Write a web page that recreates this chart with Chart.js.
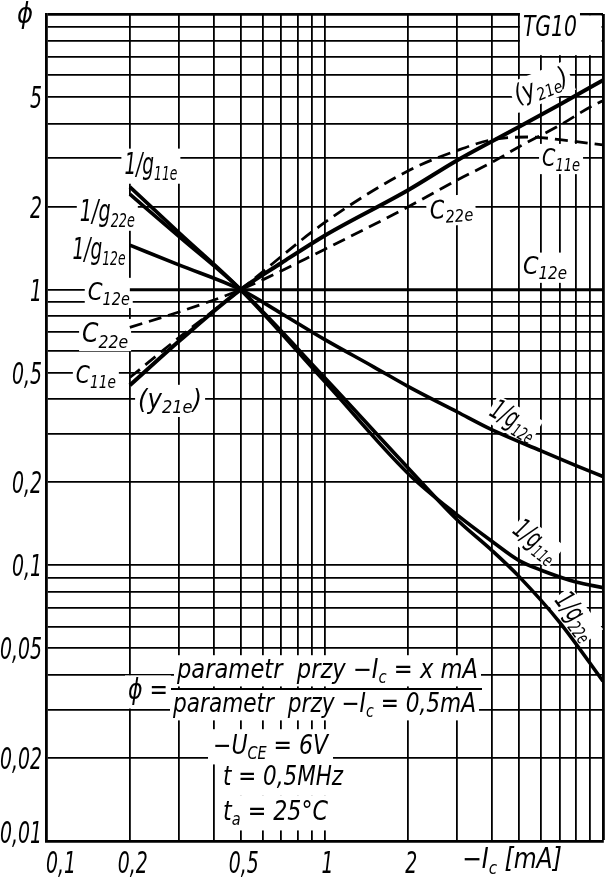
<!DOCTYPE html>
<html>
<head>
<meta charset="utf-8">
<title>TG10</title>
<script src="https://cdn.jsdelivr.net/npm/chart.js@4.4.1/dist/chart.umd.min.js"></script>
<style>
  html, body { margin: 0; padding: 0; background: #fff; }
</style>
</head>
<body>
<canvas id="chart" width="610" height="881"></canvas>
<script>
// values: -Ic [mA] against phi
const IC_Y21E = [0.2, 0.3, 0.5, 0.7, 1, 2, 3, 5, 7, 10];
const PHI_Y21E = [0.45, 0.65, 1, 1.25, 1.57, 2.3, 2.95, 3.9, 4.7, 5.75];

const IC_C11E = [0.2, 0.3, 0.5, 1, 2, 3, 4, 5.5, 7, 10];
const PHI_C11E = [0.48, 0.67, 1, 1.75, 2.7, 3.2, 3.5, 3.58, 3.5, 3.35];

const IC_C22E = [0.2, 0.3, 0.5, 1, 2, 3, 4, 5, 7, 9, 10];
const PHI_C22E = [0.73, 0.83, 1, 1.4, 2.0, 2.5, 2.9, 3.3, 3.95, 4.6, 4.85];

const IC_C12E = [0.2, 10];
const PHI_C12E = [1, 1];

const IC_G11E = [0.2, 0.3, 0.5, 1, 2, 3, 4, 5, 6, 8, 10];
const PHI_G11E = [2.36, 1.61, 1, 0.465, 0.215, 0.152, 0.122, 0.104, 0.096, 0.087, 0.083];

const IC_G22E = [0.2, 0.3, 0.5, 1, 2, 3, 4, 5, 7, 10];
const PHI_G22E = [2.22, 1.56, 1, 0.48, 0.225, 0.146, 0.113, 0.091, 0.062, 0.038];

const IC_G12E = [0.2, 0.3, 0.5, 0.7, 1, 1.5, 2, 3, 4, 6, 8, 10];
const PHI_G12E = [1.45, 1.23, 1, 0.82, 0.66, 0.525, 0.445, 0.36, 0.31, 0.26, 0.23, 0.21];

// axis labels and grid steps
const X_LABELS = [0.1, 0.2, 0.5, 1, 2];
const Y_LABELS = [0.01, 0.02, 0.05, 0.1, 0.2, 0.5, 1, 2, 5];
const GRID_STEPS = [1, 2, 3, 4, 5, 6, 7, 8, 9];
const X_DECADES = [0.1, 1];
const Y_DECADES = [0.01, 0.1, 1];

// text on the sheet, anchored in data units (mA, phi). _{..} = subscript
const LABELS = [
  { text: '1/g_{11e}', at: [0.238, 2.83], size: 30, w: 53 },
  { text: '1/g_{22e}', at: [0.166, 1.91], size: 30, w: 55 },
  { text: '1/g_{12e}', at: [0.155, 1.39], size: 30, w: 53 },
  { text: 'C_{12e}', at: [0.168, 0.98], size: 25, w: 42 },
  { text: 'C_{22e}', at: [0.163, 0.69], size: 27, w: 46 },
  { text: 'C_{11e}', at: [0.151, 0.49], size: 25, w: 40 },
  { text: '(y_{21e})', at: [0.279, 0.398], size: 27, w: 64 },
  { text: '(y_{21e})', at: [5.99, 5.48], size: 26, w: 56, rot: -22 },
  { text: 'C_{11e}', at: [7.07, 3.0], size: 25, w: 38 },
  { text: 'C_{22e}', at: [2.85, 1.95], size: 25, w: 43, rot: -5 },
  { text: 'C_{12e}', at: [6.19, 1.21], size: 25, w: 44 },
  { text: '1/g_{12e}', at: [4.79, 0.337], size: 28, w: 50, rot: 30, pad: 1 },
  { text: '1/g_{11e}', at: [5.75, 0.1226], size: 28, w: 50, rot: 38, pad: 1 },
  { text: '1/g_{22e}', at: [8.0, 0.0655], size: 28, w: 52, rot: 53, pad: 1 },
  { text: '\u03D5 =', at: [0.2324, 0.035], size: 28, w: 40 },
  { text: 'parametr  przy \u2212I_{c} = x mA', at: [1.025, 0.04175], size: 26, w: 301, id: 'num' },
  { text: 'parametr  przy \u2212I_{c} = 0,5mA', at: [1.0, 0.03144], size: 26, w: 303, id: 'den' },
  { text: '\u2212U_{CE} = 6V', at: [0.64, 0.02213], size: 26, w: 115, pad: 5 },
  { text: 't = 0,5MHz', at: [0.71, 0.01708], size: 26, w: 120, pad: 5 },
  { text: 't_{a} = 25\u00B0C', at: [0.667, 0.01275], size: 26, w: 105, pad: 5 },
  { text: '\u2212I_{c} [mA]', at: [4.71, 0.00854], size: 28, w: 100, box: false },
  { text: '\u03D5', at: [0.084, 9.92], size: 28, w: 16, box: false },
  { text: 'TG10', at: [6.45, 8.9], size: 28, w: 54 },
];

const FAMILY = '"Liberation Sans Narrow", "DejaVu Sans Condensed", "DejaVu Sans", sans-serif';
const font = (size) => `italic ${size}px ${FAMILY}`;
const TICK_SIZE = 30;
const TICK_SQUEEZE = 0.7;

function grid(decades) {
  const out = [];
  decades.forEach(d => GRID_STEPS.forEach(s => out.push(+(s * d).toPrecision(3))));
  out.push(+(decades[decades.length - 1] * 10).toPrecision(3));
  return out;
}

const series = (xs, ys) => xs.map((x, i) => ({ x, y: ys[i] }));
const hasValue = (list, v) => list.some(l => Math.abs(l - v) / l < 1e-6);
const comma = (v) => String(v).replace('.', ',');

function segs(str) {
  const out = [];
  const re = /_\{([^}]*)\}/g;
  let last = 0, m;
  while ((m = re.exec(str))) {
    if (m.index > last) out.push({ t: str.slice(last, m.index), sub: false });
    out.push({ t: m[1], sub: true });
    last = re.lastIndex;
  }
  if (last < str.length) out.push({ t: str.slice(last), sub: false });
  return out;
}

function measure(ctx, lab) {
  const S = lab.size, s = Math.round(S * 0.66);
  const parts = segs(lab.text).map(p => {
    ctx.font = font(p.sub ? s : S);
    return { t: p.t, sub: p.sub, size: p.sub ? s : S, w: ctx.measureText(p.t).width };
  });
  const natural = parts.reduce((a, p) => a + p.w, 0);
  return { parts, natural, sx: lab.w ? lab.w / natural : 1, S };
}

function anchor(chart, lab) {
  return [chart.scales.x.getPixelForValue(lab.at[0]), chart.scales.y.getPixelForValue(lab.at[1])];
}

// tick labels in the narrow drawing-office lettering, placed from the scales' ticks
function drawTickLabels(chart) {
  const ctx = chart.ctx;
  const { x, y } = chart.scales;
  const area = chart.chartArea;
  ctx.save();
  ctx.fillStyle = '#000';
  ctx.font = font(TICK_SIZE);
  ctx.textBaseline = 'alphabetic';
  y.ticks.forEach(t => {
    if (!hasValue(Y_LABELS, t.value)) return;
    const py = y.getPixelForValue(t.value);
    const base = Math.min(py + 11, area.bottom + 2);
    ctx.save();
    ctx.translate(area.left - 4, base);
    ctx.scale(TICK_SQUEEZE, 1);
    ctx.textAlign = 'right';
    ctx.fillText(comma(t.value), 0, 0);
    ctx.restore();
  });
  x.ticks.forEach(t => {
    if (!hasValue(X_LABELS, t.value)) return;
    const txt = comma(t.value);
    const w = ctx.measureText(txt).width * TICK_SQUEEZE;
    const cx = Math.max(x.getPixelForValue(t.value) + 3, area.left + w / 2);
    ctx.save();
    ctx.translate(cx, area.bottom + 32);
    ctx.scale(TICK_SQUEEZE, 1);
    ctx.textAlign = 'center';
    ctx.fillText(txt, 0, 0);
    ctx.restore();
  });
  ctx.restore();
}

const sheetText = {
  id: 'sheetText',
  beforeDatasetsDraw(chart) {
    const ctx = chart.ctx;
    const { x, y } = chart.scales;
    ctx.save();
    ctx.fillStyle = '#fff';
    // blank corner cell behind the type mark
    const l = x.getPixelForValue(5) + 1.5, r = x.getPixelForValue(10) - 1.5;
    const t = y.getPixelForValue(10) + 1.5, b = y.getPixelForValue(7) - 1.5;
    ctx.fillRect(l, t, r - l, b - t);
    LABELS.forEach(lab => {
      if (lab.box === false) return;
      const m = measure(ctx, lab);
      const [cx, cy] = anchor(chart, lab);
      const W = m.natural * m.sx, S = m.S, pad = lab.pad ?? 3;
      ctx.save();
      ctx.translate(cx, cy);
      ctx.rotate((lab.rot || 0) * Math.PI / 180);
      ctx.fillRect(-W / 2 - pad, -0.45 * S - pad, W + 2 * pad, 0.97 * S + 2 * pad);
      ctx.restore();
    });
    ctx.restore();
  },
  afterDatasetsDraw(chart) {
    const ctx = chart.ctx;
    ctx.save();
    ctx.fillStyle = '#000';
    ctx.textBaseline = 'alphabetic';
    const ends = {};
    LABELS.forEach(lab => {
      const m = measure(ctx, lab);
      const [cx, cy] = anchor(chart, lab);
      const S = m.S;
      ctx.save();
      ctx.translate(cx, cy);
      ctx.rotate((lab.rot || 0) * Math.PI / 180);
      ctx.scale(m.sx, 1);
      let px = -m.natural / 2;
      const base = 0.3 * S;
      m.parts.forEach(p => {
        ctx.font = font(p.size);
        ctx.fillText(p.t, px, p.sub ? base + 0.2 * S : base);
        px += p.w;
      });
      ctx.restore();
      if (lab.id) ends[lab.id] = { l: cx - lab.w / 2, r: cx + lab.w / 2, cy };
    });
    // fraction bar of the phi definition
    if (ends.num && ends.den) {
      const by = (ends.num.cy + ends.den.cy) / 2 + 2;
      ctx.strokeStyle = '#000';
      ctx.lineWidth = 2;
      ctx.beginPath();
      ctx.moveTo(Math.min(ends.num.l, ends.den.l) - 2, by);
      ctx.lineTo(Math.max(ends.num.r, ends.den.r) + 4, by);
      ctx.stroke();
    }
    ctx.restore();
    drawTickLabels(chart);
  }
};

const solid = { borderColor: '#000', borderWidth: 3.6, pointRadius: 0, fill: false, cubicInterpolationMode: 'monotone' };
const dashed = { ...solid, borderWidth: 2.8, borderDash: [13, 7] };

const gridWidth = (c) => (c.tick && c.tick.value >= 9.99 ? 2.8 : 1.8);

new Chart(document.getElementById('chart'), {
  type: 'line',
  data: {
    datasets: [
      { label: 'C12e', data: series(IC_C12E, PHI_C12E), ...solid, borderWidth: 3 },
      { label: 'C11e', data: series(IC_C11E, PHI_C11E), ...dashed },
      { label: 'C22e', data: series(IC_C22E, PHI_C22E), ...dashed },
      { label: 'y21e', data: series(IC_Y21E, PHI_Y21E), ...solid, borderWidth: 4 },
      { label: '1/g11e', data: series(IC_G11E, PHI_G11E), ...solid },
      { label: '1/g22e', data: series(IC_G22E, PHI_G22E), ...solid },
      { label: '1/g12e', data: series(IC_G12E, PHI_G12E), ...solid },
    ]
  },
  options: {
    responsive: false,
    animation: false,
    devicePixelRatio: 1,
    layout: { padding: { top: 14, right: 7, left: 0, bottom: 0 } },
    plugins: { legend: { display: false }, tooltip: { enabled: false } },
    scales: {
      x: {
        type: 'logarithmic',
        min: 0.1,
        max: 10,
        afterBuildTicks: (s) => { s.ticks = grid(X_DECADES).map(v => ({ value: v })); },
        afterFit: (s) => { s.height = 40; s.paddingLeft = 0; s.paddingRight = 0; },
        grid: { color: '#000', lineWidth: gridWidth, drawTicks: false },
        border: { color: '#000', width: 2.8 },
        ticks: { display: false, autoSkip: false, maxRotation: 0 }
      },
      y: {
        type: 'logarithmic',
        min: 0.01,
        max: 10,
        afterBuildTicks: (s) => { s.ticks = grid(Y_DECADES).map(v => ({ value: v })); },
        afterFit: (s) => { s.width = 46; s.paddingTop = 0; s.paddingBottom = 0; },
        grid: { color: '#000', lineWidth: gridWidth, drawTicks: false },
        border: { color: '#000', width: 2.8 },
        ticks: { display: false, autoSkip: false }
      }
    }
  },
  plugins: [sheetText]
});
</script>
</body>
</html>
